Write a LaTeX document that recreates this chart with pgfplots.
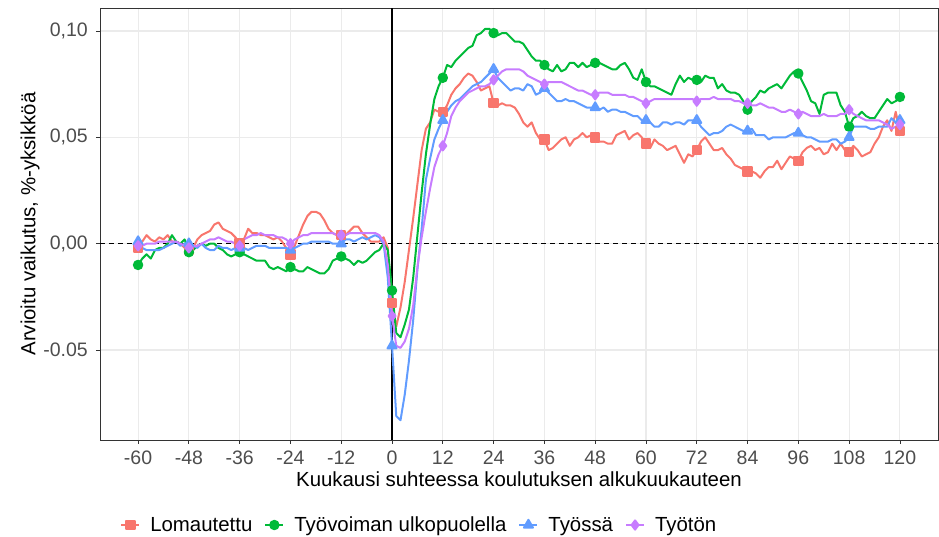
\documentclass[border=0pt]{standalone}
\usepackage{fontspec}
\setmainfont{Liberation Sans}
\usepackage{pgfplots}
\usepackage{pgfplotstable}
\pgfplotsset{compat=1.18}
\definecolor{cR}{HTML}{F8766D}
\definecolor{cG}{HTML}{00BA38}
\definecolor{cB}{HTML}{619CFF}
\definecolor{cP}{HTML}{C77CFF}
\definecolor{gridc}{HTML}{EBEBEB}
\definecolor{tickc}{HTML}{4D4D4D}
\definecolor{framec}{HTML}{333333}

\pgfplotstableread{
m r g b p
-60 -0.002 -0.010 0.001 -0.001
-59 0.001 -0.007 -0.002 -0.001
-58 0.004 -0.005 -0.003 0.000
-57 0.002 -0.007 -0.003 0.000
-56 0.001 -0.003 -0.003 0.000
-55 0.003 -0.002 -0.003 0.001
-54 0.002 -0.002 -0.002 0.001
-53 0.004 0.000 -0.001 0.001
-52 0.001 0.004 0.000 0.001
-51 0.001 0.001 0.001 0.001
-50 0.000 0.000 -0.001 0.000
-49 -0.002 0.002 0.000 -0.001
-48 -0.003 -0.004 0.000 -0.002
-47 -0.002 -0.003 -0.001 -0.001
-46 0.002 -0.001 -0.002 -0.001
-45 0.004 0.000 0.000 0.000
-44 0.005 -0.001 -0.002 0.001
-43 0.006 0.000 -0.003 0.002
-42 0.009 0.000 -0.003 0.002
-41 0.010 -0.002 -0.001 0.003
-40 0.007 -0.003 -0.002 0.002
-39 0.006 -0.005 -0.002 0.001
-38 0.005 -0.006 -0.003 0.001
-37 0.003 -0.005 -0.002 0.000
-36 0.000 -0.004 -0.002 -0.001
-35 0.002 -0.005 -0.002 0.002
-34 0.007 -0.006 -0.003 0.003
-33 0.005 -0.007 -0.002 0.004
-32 0.005 -0.008 -0.001 0.004
-31 0.004 -0.008 -0.001 0.005
-30 0.004 -0.008 -0.001 0.004
-29 0.003 -0.011 -0.002 0.004
-28 0.002 -0.012 -0.002 0.004
-27 0.003 -0.011 -0.002 0.003
-26 0.001 -0.012 -0.002 0.003
-25 -0.002 -0.013 -0.002 0.002
-24 -0.005 -0.011 -0.003 0.000
-23 -0.001 -0.012 -0.002 0.002
-22 0.004 -0.013 -0.001 0.003
-21 0.009 -0.013 0.000 0.004
-20 0.013 -0.011 0.000 0.004
-19 0.015 -0.012 0.001 0.005
-18 0.015 -0.013 0.001 0.005
-17 0.014 -0.014 0.001 0.005
-16 0.011 -0.014 0.001 0.005
-15 0.007 -0.012 0.001 0.005
-14 0.005 -0.008 0.000 0.005
-13 0.004 -0.007 0.000 0.004
-12 0.004 -0.006 0.000 0.004
-11 0.004 -0.007 0.002 0.004
-10 0.006 -0.008 0.002 0.005
-9 0.008 -0.010 0.001 0.005
-8 0.008 -0.008 0.002 0.005
-7 0.005 -0.009 0.003 0.005
-6 0.003 -0.008 0.002 0.005
-5 0.001 -0.006 0.003 0.005
-4 0.001 -0.004 0.004 0.005
-3 0.001 -0.003 0.003 0.004
-2 0.003 0.000 0.000 0.001
-1 -0.002 -0.003 -0.016 -0.010
0 -0.028 -0.022 -0.048 -0.034
1 -0.039 -0.042 -0.081 -0.048
2 -0.030 -0.044 -0.083 -0.049
3 -0.018 -0.038 -0.071 -0.046
4 -0.003 -0.031 -0.055 -0.040
5 0.012 -0.016 -0.036 -0.029
6 0.028 0.004 -0.012 -0.011
7 0.044 0.024 0.007 0.003
8 0.054 0.042 0.030 0.015
9 0.057 0.056 0.040 0.026
10 0.063 0.068 0.049 0.036
11 0.062 0.074 0.054 0.042
12 0.062 0.078 0.058 0.046
13 0.065 0.084 0.062 0.052
14 0.070 0.083 0.065 0.060
15 0.073 0.086 0.067 0.064
16 0.075 0.088 0.068 0.067
17 0.078 0.090 0.070 0.069
18 0.080 0.092 0.072 0.071
19 0.079 0.093 0.074 0.072
20 0.076 0.098 0.075 0.073
21 0.072 0.099 0.076 0.074
22 0.073 0.101 0.078 0.074
23 0.074 0.101 0.080 0.075
24 0.066 0.099 0.082 0.077
25 0.065 0.098 0.078 0.079
26 0.066 0.099 0.076 0.081
27 0.065 0.099 0.074 0.082
28 0.065 0.097 0.072 0.082
29 0.064 0.095 0.073 0.082
30 0.061 0.095 0.073 0.082
31 0.057 0.094 0.072 0.081
32 0.055 0.091 0.075 0.079
33 0.057 0.088 0.074 0.078
34 0.052 0.086 0.070 0.077
35 0.049 0.086 0.071 0.076
36 0.049 0.084 0.073 0.075
37 0.044 0.082 0.071 0.076
38 0.045 0.081 0.069 0.076
39 0.047 0.084 0.067 0.076
40 0.049 0.081 0.067 0.076
41 0.050 0.082 0.068 0.075
42 0.046 0.085 0.067 0.074
43 0.049 0.085 0.067 0.073
44 0.050 0.083 0.066 0.072
45 0.052 0.085 0.065 0.072
46 0.050 0.083 0.064 0.071
47 0.051 0.084 0.064 0.070
48 0.050 0.085 0.064 0.070
49 0.048 0.085 0.063 0.071
50 0.048 0.084 0.064 0.071
51 0.047 0.083 0.062 0.071
52 0.047 0.082 0.063 0.070
53 0.051 0.082 0.063 0.070
54 0.052 0.084 0.062 0.070
55 0.053 0.085 0.062 0.070
56 0.049 0.082 0.061 0.069
57 0.051 0.078 0.060 0.069
58 0.052 0.077 0.060 0.068
59 0.050 0.082 0.058 0.067
60 0.047 0.076 0.058 0.066
61 0.045 0.074 0.057 0.067
62 0.049 0.074 0.055 0.068
63 0.047 0.073 0.055 0.068
64 0.046 0.072 0.057 0.068
65 0.044 0.071 0.057 0.068
66 0.045 0.070 0.056 0.068
67 0.046 0.075 0.057 0.068
68 0.042 0.079 0.057 0.068
69 0.038 0.076 0.056 0.068
70 0.042 0.078 0.058 0.068
71 0.041 0.077 0.058 0.068
72 0.044 0.077 0.058 0.067
73 0.048 0.076 0.055 0.068
74 0.050 0.079 0.053 0.068
75 0.047 0.078 0.051 0.068
76 0.044 0.078 0.052 0.069
77 0.044 0.073 0.052 0.068
78 0.045 0.075 0.053 0.068
79 0.042 0.072 0.055 0.068
80 0.040 0.071 0.056 0.068
81 0.037 0.071 0.055 0.067
82 0.036 0.070 0.054 0.067
83 0.035 0.067 0.053 0.066
84 0.034 0.063 0.053 0.066
85 0.034 0.067 0.054 0.065
86 0.033 0.069 0.051 0.065
87 0.031 0.072 0.051 0.066
88 0.034 0.071 0.051 0.065
89 0.036 0.073 0.049 0.064
90 0.036 0.074 0.050 0.064
91 0.039 0.075 0.050 0.063
92 0.035 0.073 0.050 0.062
93 0.038 0.076 0.050 0.062
94 0.041 0.079 0.051 0.063
95 0.040 0.081 0.052 0.062
96 0.039 0.080 0.052 0.061
97 0.043 0.076 0.051 0.062
98 0.045 0.072 0.050 0.061
99 0.046 0.067 0.050 0.060
100 0.044 0.066 0.049 0.060
101 0.045 0.061 0.048 0.060
102 0.042 0.070 0.048 0.061
103 0.043 0.071 0.048 0.060
104 0.047 0.071 0.049 0.060
105 0.044 0.071 0.049 0.060
106 0.047 0.065 0.047 0.061
107 0.044 0.062 0.048 0.061
108 0.043 0.055 0.050 0.063
109 0.046 0.059 0.055 0.061
110 0.044 0.060 0.055 0.060
111 0.041 0.062 0.055 0.059
112 0.042 0.060 0.055 0.058
113 0.043 0.059 0.054 0.058
114 0.047 0.059 0.054 0.058
115 0.050 0.062 0.055 0.058
116 0.055 0.065 0.055 0.057
117 0.058 0.068 0.055 0.056
118 0.053 0.066 0.059 0.054
119 0.062 0.067 0.057 0.055
120 0.053 0.069 0.058 0.056
}\datatable

\begin{document}
\begin{tikzpicture}
\begin{axis}[
  name=ax,
  scale only axis, width=838pt, height=432pt,
  xmin=-69, xmax=129, ymin=-0.0923, ymax=0.1108,
  xtick={-60,-48,-36,-24,-12,0,12,24,36,48,60,72,84,96,108,120},
  xticklabels={-60,-48,-36,-24,-12,0,12,24,36,48,60,72,84,96,108,120},
  ytick={-0.05,0,0.05,0.1},
  yticklabels={-0.05,{0,00},{0,05},{0,10}},
  scaled y ticks=false,
  grid=major,
  major grid style={gridc, line width=1.1pt},
  axis line style={framec, line width=0.8pt},
  tick style={framec, line width=0.8pt},
  tick align=outside, major tick length=4pt,
  xtick pos=left, ytick pos=left,
  ticklabel style={font=\fontsize{19.5}{22}\selectfont, text=tickc},
  xticklabel style={anchor=north, inner sep=0pt, yshift=-7pt},
  yticklabel style={anchor=east, inner sep=0pt, xshift=-8pt},
  xlabel={Kuukausi suhteessa koulutuksen alkukuukauteen},
  ylabel={Arvioitu vaikutus, \%-yksikköä},
  label style={font=\fontsize{20.4}{22}\selectfont},
  xlabel style={at={(axis description cs:0.5,-0.0903)}, anchor=center},
  ylabel style={at={(axis description cs:-0.0835,0.5)}, anchor=center},
  legend style={at={(axis description cs:0.024,-0.1968)}, anchor=west,
    draw=none, fill=none, legend columns=4, inner sep=0pt,
    font=\fontsize{20.4}{22}\selectfont,
    /tikz/every odd column/.append style={column sep=8pt},
    /tikz/every even column/.append style={column sep=10pt}},
  legend cell align=left,
  legend image code/.code={\draw[mark repeat=2,mark phase=2] plot coordinates {(0pt,0pt) (9pt,0pt) (18pt,0pt)};},
]
\addplot[black, line width=2.6pt, forget plot] coordinates {(0,-0.0923) (0,0.1108)};
\addplot[black, line width=1.2pt, dash pattern=on 5pt off 4pt, forget plot] coordinates {(-69,0) (129,0)};
\addplot[cR, line width=2pt, line join=round, mark=square*, mark size=4.2pt, mark repeat=12, mark options={solid}] table[x=m,y=r]{\datatable};
\addlegendentry{Lomautettu}
\addplot[cG, line width=2pt, line join=round, mark=*, mark size=4.2pt, mark repeat=12, mark options={solid}] table[x=m,y=g]{\datatable};
\addlegendentry{Työvoiman ulkopuolella}
\addplot[cB, line width=2pt, line join=round, mark=triangle*, mark size=5.2pt, mark repeat=12, mark options={solid}] table[x=m,y=b]{\datatable};
\addlegendentry{Työssä}
\addplot[cP, line width=2pt, line join=round, mark=diamond*, mark size=4.6pt, mark repeat=12, mark options={solid}] table[x=m,y=p]{\datatable};
\addlegendentry{Työtön}
\end{axis}
\pgfresetboundingbox
\path[use as bounding box] ([xshift=-100pt,yshift=-97pt]ax.south west) rectangle ([xshift=1pt,yshift=8pt]ax.north east);
\end{tikzpicture}
\end{document}
